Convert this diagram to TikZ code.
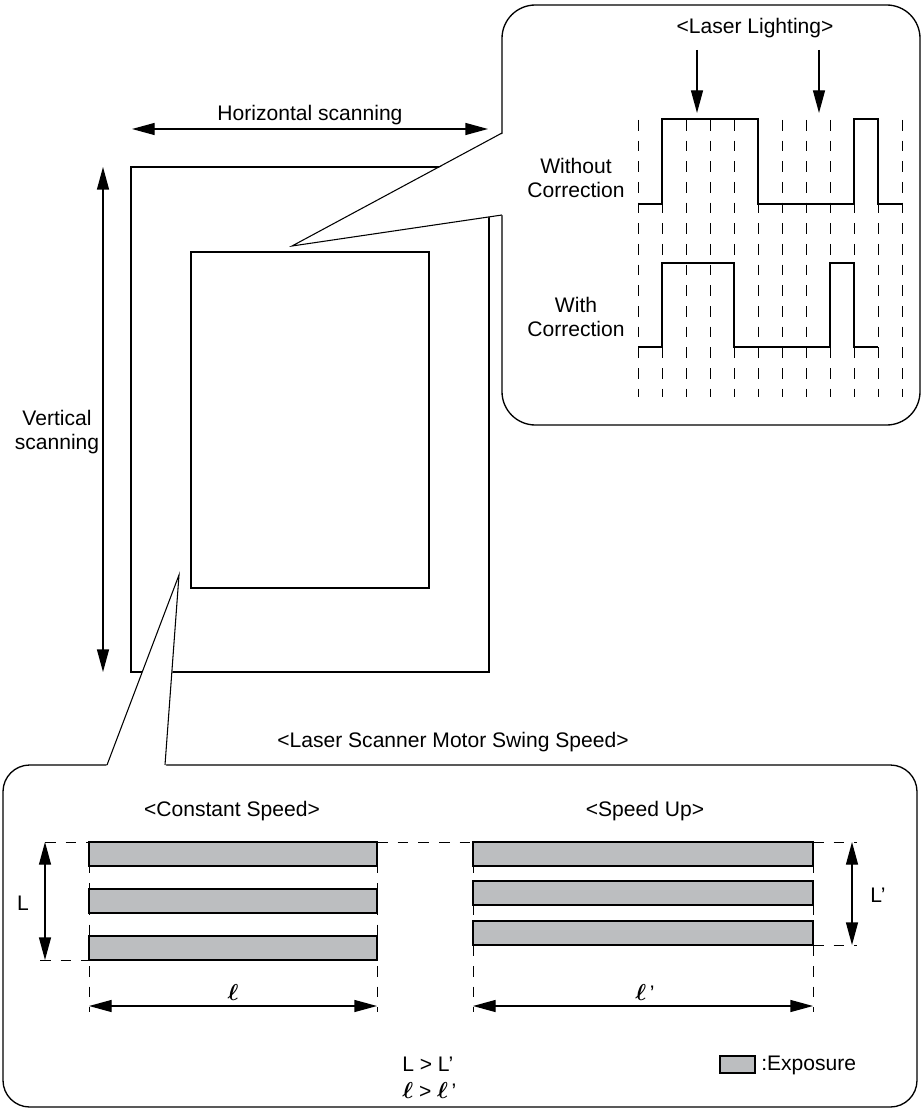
\documentclass[tikz,border=0pt]{standalone}
\usepackage{amsmath}
\usepackage{fontspec}
\setmainfont{Liberation Sans}
\usetikzlibrary{arrows.meta}
\definecolor{barfill}{HTML}{BCBEC0}
\newcommand{\bell}{\scalebox{1.2}{\ensuremath{\boldsymbol{\ell}}}}
\begin{document}
\begin{tikzpicture}[x=0.75pt,y=-0.75pt,
  line/.style={line width=1pt},
  thinline/.style={line width=0.8pt},
  dim/.style={line width=1pt,{Triangle[length=17pt,width=9pt]}-{Triangle[length=17pt,width=9pt]}},
  dn/.style={line width=1pt,-{Triangle[length=17pt,width=9pt]}},
  guide/.style={line width=0.7pt,dash pattern=on 8pt off 7.5pt},
  wave/.style={line width=1.2pt},
  bar/.style={draw,line width=1.2pt,fill=barfill},
  lbl/.style={font=\fontsize{15.8}{18.5}\selectfont,inner sep=0pt,align=center},
]
\useasboundingbox (0,0) rectangle (921,1109);
\fill[white] (0,0) rectangle (921,1109);

% page outlines
\draw[line] (131,167) rectangle (489,672);
\draw[line] (191,252) rectangle (429,588);

% scanning arrows
\coordinate (vt) at (103,167);
\coordinate (vb) at (103,672);
\draw[dim] (vt) -- (vb);
\coordinate (hl) at (132,129);
\coordinate (hr) at (488,129);
\draw[dim] (hl) -- (hr);
\node[lbl] (hlab) at (310,115) {Horizontal scanning};
\node[lbl] (vlab) at (57,432) {Vertical\\scanning};

% top callout
\draw[line,fill=white,rounded corners=25] (502,5) rectangle (920,425);
\coordinate (ttip) at (292,246);
\coordinate (ta) at (502,133);
\coordinate (tb) at (502,215);
\fill[white] (504,133) -- (ttip) -- (504,215) -- cycle;
\draw[thinline] (ta) -- (ttip) -- (tb);

\node[lbl] (ll) at (755,28) {<Laser Lighting>};
\coordinate (a1s) at (697,50); \coordinate (a1e) at (697,113);
\coordinate (a2s) at (819,50); \coordinate (a2e) at (819,113);
\draw[dn] (a1s) -- (a1e);
\draw[dn] (a2s) -- (a2e);
\foreach \i in {0,...,11}
  \draw[guide] (638+24*\i,120) -- (638+24*\i,397);
\node[lbl] (woc) at (576,178) {Without\\Correction};
\node[lbl] (wc) at (576,317) {With\\Correction};
\draw[wave] (638,204) -- (662,204) -- (662,119) -- (758,119) -- (758,204) -- (854,204) -- (854,119) -- (878,119) -- (878,204) -- (902,204);
\draw[wave] (638,347) -- (662,347) -- (662,263) -- (734,263) -- (734,347) -- (830,347) -- (830,263) -- (854,263) -- (854,347) -- (878,347);

% bottom callout
\node[lbl] (mot) at (453,742) {<Laser Scanner Motor Swing Speed>};
\draw[line,fill=white,rounded corners=20] (3,765) rectangle (917,1107);
\coordinate (btip) at (179,575);
\coordinate (ba) at (107,765);
\coordinate (bb) at (165,765);
\fill[white] (106,767) -- (btip) -- (166,767) -- cycle;
\draw[thinline] (ba) -- (btip) -- (bb);

\node[lbl] (cs) at (232,811) {<Constant Speed>};
\node[lbl] (su) at (645,811) {<Speed Up>};

% guides
\draw[guide] (89,842) -- (89,1012);
\draw[guide] (377,842) -- (377,1012);
\draw[guide] (473,842) -- (473,1012);
\draw[guide] (813,842) -- (813,1012);
\draw[guide] (45,842) -- (89,842);
\draw[guide] (377,842) -- (473,842);
\draw[guide] (813,842) -- (857,842);
\draw[guide] (40,960) -- (89,960);
\draw[guide] (813,945) -- (857,945);

% bars
\draw[bar] (89,842) rectangle (377,866);
\draw[bar] (89,889) rectangle (377,913);
\draw[bar] (89,936) rectangle (377,960);
\draw[bar] (473,842) rectangle (813,866);
\draw[bar] (473,881) rectangle (813,905);
\draw[bar] (473,921) rectangle (813,945);

% dimensions
\coordinate (Lt) at (45,842); \coordinate (Lb) at (45,960);
\draw[dim] (Lt) -- (Lb);
\node[lbl] (Llab) at (23,903) {L};
\coordinate (lL) at (89,1006); \coordinate (lR) at (377,1006);
\draw[dim] (lL) -- (lR);
\node[lbl] (llab) at (233,992) {\bell};
\coordinate (Lpt) at (852,842); \coordinate (Lpb) at (852,945);
\draw[dim] (Lpt) -- (Lpb);
\node[lbl] (Lplab) at (878,895) {L’};
\coordinate (lpL) at (473,1006); \coordinate (lpR) at (813,1006);
\draw[dim] (lpL) -- (lpR);
\node[lbl] (lplab) at (645,992) {\bell\,’};

\node[lbl,anchor=west] (cmp1) at (402,1064) {L > L’};
\node[lbl,anchor=west] (cmp2) at (402,1090) {\bell{} > \bell\,’};

% legend
\draw[bar,line width=1pt] (720,1056) rectangle (755,1073);
\node[lbl,anchor=west] (exp) at (761,1065) {:Exposure};
\end{tikzpicture}
\end{document}
